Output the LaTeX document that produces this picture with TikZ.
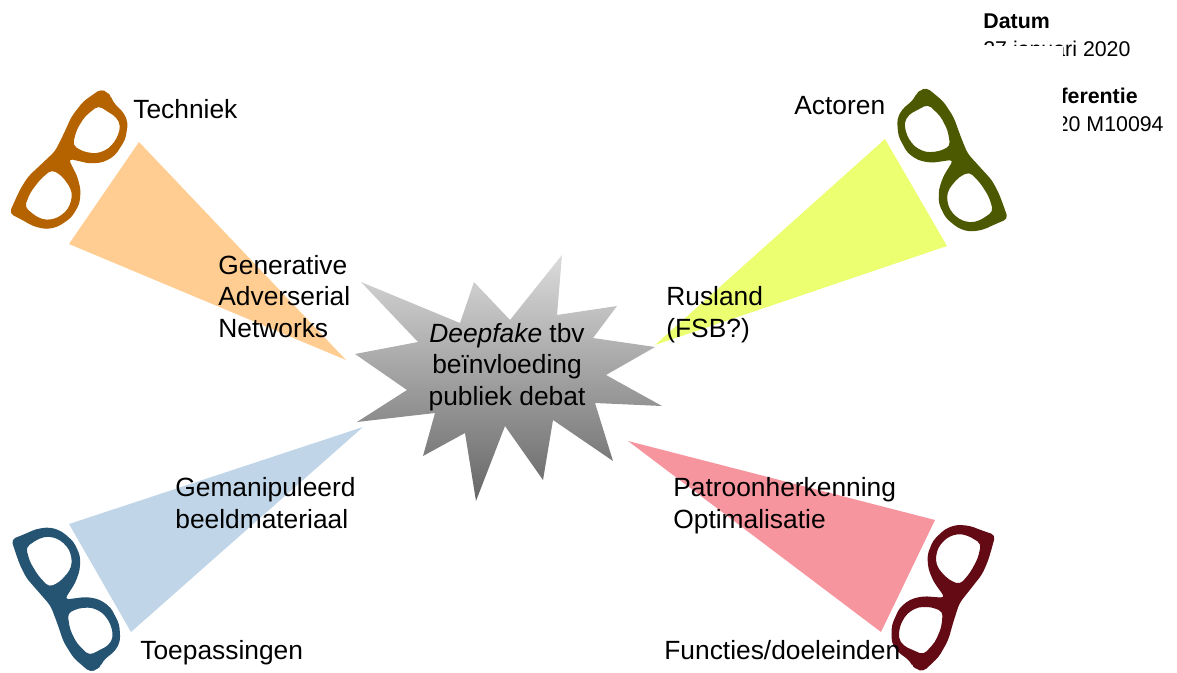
\documentclass[tikz,border=0pt]{standalone}
\usepackage{fontspec}
\setmainfont{Liberation Sans}
\usepackage{tikz}
\definecolor{techframe}{HTML}{B56300}
\definecolor{techcone}{HTML}{FFCC91}
\definecolor{actorframe}{HTML}{4D5900}
\definecolor{actorcone}{HTML}{EBFF70}
\definecolor{usageframe}{HTML}{255473}
\definecolor{usagecone}{HTML}{C0D6E8}
\definecolor{goalframe}{HTML}{630A14}
\definecolor{goalcone}{HTML}{F7959F}
\tikzset{
x=0.02cm, % one unit is one pixel of the reference
y=-0.02cm, % y runs downwards, as in the reference
label/.style={anchor=base west, inner sep=0pt, align=left, font=\fontsize{15}{17.9}\selectfont}, % sets the properties for the big texts
small/.style={anchor=base west, inner sep=0pt, font=\fontsize{12.15}{14}\selectfont}, % sets the properties for the date block
pics/glasses/.style={code={
        \fill[#1, even odd rule, scale=0.3333, shift={(-166.5,-214)}, rounded corners=2.5pt]
            (303,28) -- (322,38) -- (333,50) -- (338,66) -- (372,100) -- (384,130) -- (376,180) -- (345,228) -- (310,248) -- (270,252) -- (205,237) -- (232,290) -- (242,330) -- (239,372) -- (215,413) -- (175,441) -- (140,449) -- (100,440) -- (65,420) -- (28,401) -- (45,362) -- (62,326) -- (85,290) -- (165,215) -- (190,165) -- (215,110) -- (250,65) -- cycle
            (295,78) -- (350,113) -- (362,140) -- (350,178) -- (325,208) -- (290,222) -- (250,216) -- (218,197) -- (230,150) -- (255,110) -- cycle
            (155,270) -- (185,288) -- (212,325) -- (217,352) -- (205,388) -- (175,414) -- (140,422) -- (110,412) -- (74,382) -- (90,340) -- (120,300) -- cycle;
}},
}
\begin{document}
\begin{tikzpicture}
        \useasboundingbox (0,0) rectangle (1177,673);

        % date block, partly hidden
        \node[small] (date) at (983,28) {\textbf{Datum}};
        \node[small] (dateval) at (983,56) {27 januari 2020};
        \node[small, anchor=base east] (ref) at (1138,103) {\textbf{ferentie}};
        \node[small, anchor=base east] (refval) at (1164,131) {20 M10094};
        \fill[white] (960,46) rectangle (1063,220);

        % cones
        \fill[techcone] (139,142) -- (69,244) -- (346,360) -- cycle;
        \fill[actorcone] (885,139) -- (947,246) -- (655,345) -- cycle;
        \fill[usagecone] (69,524) -- (131,632) -- (363,427) -- cycle;
        \fill[goalcone] (935,520) -- (881,632) -- (628,441) -- cycle;

        % star
        \shade[top color=black!14, middle color=black!28, bottom color=black!60]
            (361,282) -- (460,323) -- (474,282) -- (510,320) -- (562,255) -- (557,315) -- (617,306) -- (593,338) -- (655,347) -- (606,375) -- (662,406) -- (595,403) -- (613,461) -- (553,420) -- (543,480) -- (505,426) -- (476,501) -- (465,433) -- (423,456) -- (435,413) -- (357,422) -- (407,390) -- (355,354) -- (418,342) -- cycle;
        \node[label, anchor=center, align=center] (deepfake) at (507,367) {\textit{Deepfake} tbv\\beïnvloeding\\publiek debat};

        % glasses
        \pic at (55.5,151) {glasses=techframe};
        \pic[xscale=-1, rotate=4.6] at (967,153) {glasses=actorframe};
        \pic[yscale=-1, rotate=5.7] at (51,606) {glasses=usageframe};
        \pic[rotate=-171.4] at (959,603.5) {glasses=goalframe};

        % labels
        \node[label] (tech) at (133,118) {Techniek};
        \node[label] (actor) at (794,114) {Actoren};
        \node[label] (usage) at (140,659) {Toepassingen};
        \node[label] (goal) at (664,659) {Functies/doeleinden};
        \node[label] (gan) at (218,337) {Generative\\Adverserial\\Networks};
        \node[label] (russia) at (666,337) {Rusland\\(FSB?)};
        \node[label] (media) at (175,528) {Gemanipuleerd\\beeldmateriaal};
        \node[label] (pattern) at (673,528) {Patroonherkenning\\Optimalisatie};
\end{tikzpicture}
\end{document}
